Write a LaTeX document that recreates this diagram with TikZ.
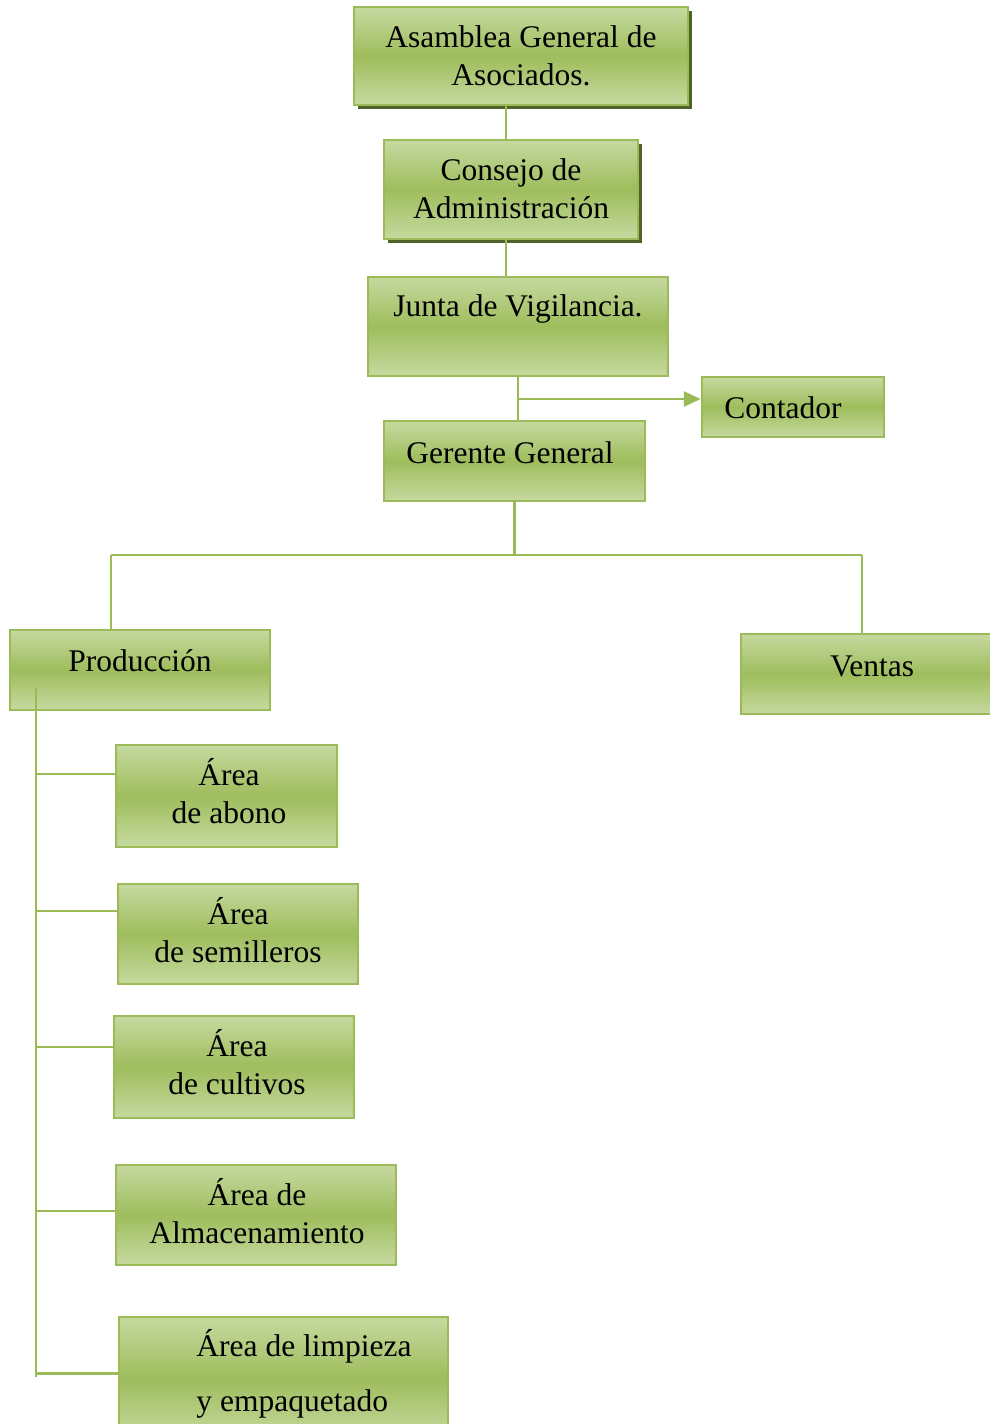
\documentclass[tikz,border=0pt]{standalone}
\usepackage{fontspec}
\setmainfont{Liberation Serif}
\usetikzlibrary{arrows.meta,shadows}
\definecolor{gtop}{HTML}{C6D9A0}
\definecolor{gmid}{HTML}{9EBD5C}
\definecolor{gborder}{HTML}{9BBB59}
\definecolor{gshadow}{HTML}{4F6228}
\begin{document}
\begin{tikzpicture}[x=1pt,y=-1pt,
  box/.style={draw=gborder, line width=2.5pt, top color=gtop, bottom color=gtop, middle color=gmid, inner sep=0pt},
  shbox/.style={box, drop shadow={shadow xshift=4pt, shadow yshift=-4pt, fill=gshadow, opacity=1}},
  lbl/.style={font=\fontsize{31.5}{38}\selectfont, align=center, inner sep=0pt, text=black},
  conn/.style={draw=gborder, line width=2.8pt}]
\useasboundingbox (0,0) rectangle (989,1424);
% boxes
\node[shbox, minimum width=334pt, minimum height=98pt] (asam) at (521,56) {};
\node[shbox, minimum width=254pt, minimum height=99pt] (consejo) at (511,189.5) {};
\node[box, minimum width=300pt, minimum height=99pt] (junta) at (518,326.5) {};
\node[box, minimum width=182pt, minimum height=60pt] (contador) at (793,407) {};
\node[box, minimum width=261pt, minimum height=80pt] (gerente) at (514.5,461) {};
\node[box, minimum width=260pt, minimum height=80pt] (prod) at (140,670) {};
\node[box, minimum width=262pt, minimum height=80pt] (ventas) at (872,674) {};
\node[box, minimum width=221pt, minimum height=102pt] (abono) at (226.5,796) {};
\node[box, minimum width=240pt, minimum height=100pt] (semi) at (238,934) {};
\node[box, minimum width=240pt, minimum height=102pt] (cult) at (234,1067) {};
\node[box, minimum width=280pt, minimum height=100pt] (alm) at (256,1215) {};
\node[box, minimum width=329pt, minimum height=123pt] (limp) at (283.5,1378.5) {};
% texts
\node[lbl] (tasam) at (521,56) {Asamblea General de\\Asociados.};
\node[lbl] (tconsejo) at (511,189) {Consejo de\\Administración};
\node[lbl] (tjunta) at (518,309) {Junta de Vigilancia.};
\node[lbl] (tcontador) at (783,408) {Contador};
\node[lbl] (tgerente) at (510,453) {Gerente General};
\node[lbl] (tprod) at (140,661) {Producción};
\node[lbl] (tventas) at (872,666) {Ventas};
\node[lbl] (tabono) at (229,791.5) {Área\\de abono};
\node[lbl] (tsemi) at (238,930.5) {Área\\de semilleros};
\node[lbl] (tcult) at (237,1062.5) {Área\\de cultivos};
\node[lbl] (talm) at (257,1211.5) {Área de\\Almacenamiento};
\node[lbl, align=left, font=\fontsize{31.5}{55}\selectfont] (tlimp) at (304,1373.5) {Área de limpieza\\y empaquetado};
% connectors
\draw[conn] ([xshift=-15pt]asam.south) -- ([xshift=-5pt]consejo.north);
\draw[conn] ([xshift=-5pt]consejo.south) -- ([xshift=-12pt]junta.north);
\draw[conn] (junta.south) -- (junta.south |- gerente.north);
\coordinate (jbr) at (518,399);
\draw[conn, -{Triangle[length=17pt,width=15pt]}] (jbr) -- (jbr -| contador.west);
\coordinate (hL) at (111,555);
\coordinate (hR) at (862,555);
\draw[conn] (gerente.south) -- (gerente.south |- hL);
\draw[conn] (hL) -- (hR);
\draw[conn] (hL) -- (hL |- prod.north);
\draw[conn] (hR) -- (hR |- ventas.north);
\coordinate (vt) at (36,688);
\coordinate (vb) at (36,1377);
\draw[conn] (vt) -- (vb);
\coordinate (b1) at ([yshift=22pt]abono.west);
\coordinate (b2) at ([yshift=23pt]semi.west);
\coordinate (b3) at ([yshift=20pt]cult.west);
\coordinate (b4) at ([yshift=4pt]alm.west);
\coordinate (b5) at ([yshift=5pt]limp.west);
\draw[conn] (vt |- b1) -- (b1);
\draw[conn] (vt |- b2) -- (b2);
\draw[conn] (vt |- b3) -- (b3);
\draw[conn] (vt |- b4) -- (b4);
\draw[conn] (vt |- b5) -- (b5);
\end{tikzpicture}
\end{document}
